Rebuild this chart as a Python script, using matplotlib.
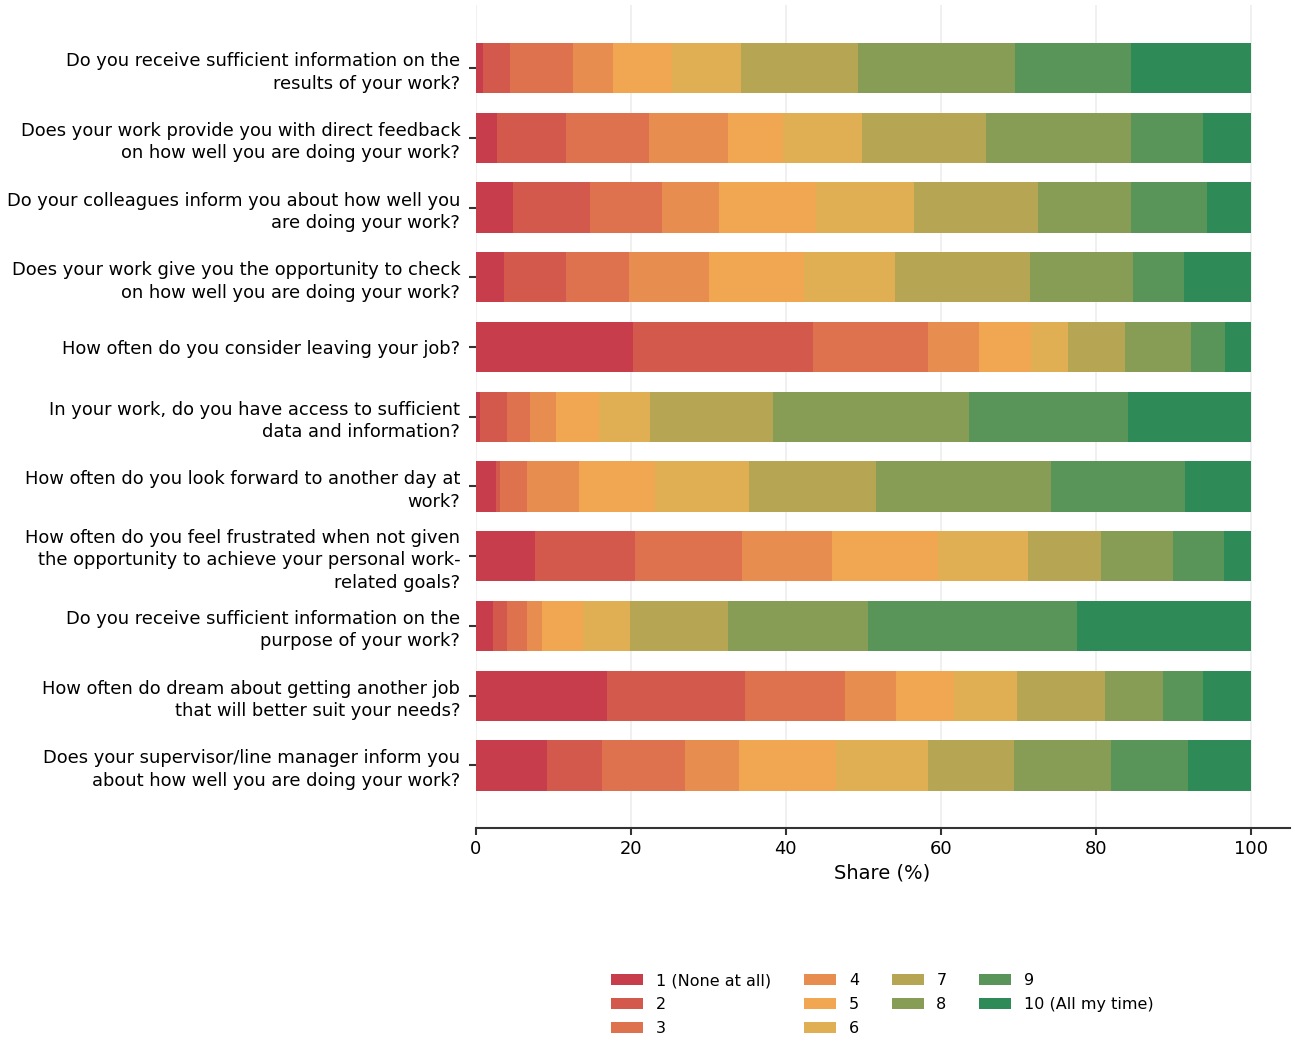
import matplotlib.pyplot as plt
import numpy as np

questions = [
    "Do you receive sufficient information on the\nresults of your work?",
    "Does your work provide you with direct feedback\non how well you are doing your work?",
    "Do your colleagues inform you about how well you\nare doing your work?",
    "Does your work give you the opportunity to check\non how well you are doing your work?",
    "How often do you consider leaving your job?",
    "In your work, do you have access to sufficient\ndata and information?",
    "How often do you look forward to another day at\nwork?",
    "How often do you feel frustrated when not given\nthe opportunity to achieve your personal work-\nrelated goals?",
    "Do you receive sufficient information on the\npurpose of your work?",
    "How often do dream about getting another job\nthat will better suit your needs?",
    "Does your supervisor/line manager inform you\nabout how well you are doing your work?",
]

levels = ['1 (None at all)', '2', '3', '4', '5', '6', '7', '8', '9', '10 (All my time)']
colors = ['#C83D4B', '#D3594C', '#DE724E', '#E78D50', '#F1A751',
          '#E1AF53', '#B6A654', '#879D56', '#599458', '#2E8A57']

# share (%) per question, one column per answer level 1..10
shares = np.array([
    [1.0, 3.4, 8.1, 5.2, 7.6, 8.9, 15.1, 20.3, 15.0, 15.4],
    [2.8, 8.9, 10.7, 10.2, 7.1, 10.2, 15.9, 18.7, 9.3, 6.2],
    [4.8, 9.9, 9.3, 7.4, 12.5, 12.6, 16.1, 11.9, 9.9, 5.6],
    [3.6, 8.1, 8.1, 10.3, 12.3, 11.7, 17.4, 13.3, 6.6, 8.6],
    [20.3, 23.2, 14.8, 6.6, 6.7, 4.8, 7.4, 8.5, 4.4, 3.3],
    [0.6, 3.4, 3.0, 3.4, 5.5, 6.6, 15.9, 25.2, 20.6, 15.8],
    [2.6, 0.6, 3.4, 6.7, 9.9, 12.1, 16.3, 22.6, 17.3, 8.5],
    [7.7, 12.9, 13.7, 11.7, 13.7, 11.5, 9.5, 9.3, 6.6, 3.4],
    [2.2, 1.8, 2.6, 1.9, 5.4, 6.0, 12.6, 18.1, 27.0, 22.4],
    [16.9, 17.8, 12.9, 6.6, 7.5, 8.1, 11.4, 7.5, 5.2, 6.1],
    [9.2, 7.1, 10.7, 7.0, 12.5, 11.9, 11.1, 12.5, 9.9, 8.1],
])

plt.rcParams['font.family'] = 'DejaVu Sans'

fig = plt.figure(figsize=(12.96, 10.51), dpi=100)
ax = fig.add_axes([0.367, 0.212, 0.628, 0.783])

y = np.arange(len(questions))
left = np.zeros(len(questions))
for i in range(len(levels)):
    ax.barh(y, shares[:, i], left=left, height=0.72, color=colors[i],
            label=levels[i], zorder=2)
    left += shares[:, i]

ax.set_yticks(y)
ax.set_yticklabels(questions, fontsize=12.9, linespacing=1.32)
ax.set_ylim(10.9, -0.9)
ax.set_xlim(0, 105)
ax.set_xticks([0, 20, 40, 60, 80, 100])
ax.tick_params(axis='x', labelsize=12.9, length=5, width=1.5, color='#333333')
ax.tick_params(axis='y', length=5, width=1.5, color='#333333', pad=6)
ax.set_xlabel('Share (%)', fontsize=14)

ax.grid(axis='x', color='#EEEEEE', linewidth=1.2, zorder=0)
ax.set_axisbelow(True)
for s in ['top', 'right', 'left']:
    ax.spines[s].set_visible(False)
ax.spines['bottom'].set_color('#333333')
ax.spines['bottom'].set_linewidth(1.5)

ax.legend(loc='upper center', bbox_to_anchor=(0.5, -0.159), ncol=4,
          frameon=False, fontsize=11.5, handlelength=2.0, handleheight=0.66,
          columnspacing=2.05, labelspacing=0.55, handletextpad=0.8)

plt.savefig('out.png', dpi=100)
